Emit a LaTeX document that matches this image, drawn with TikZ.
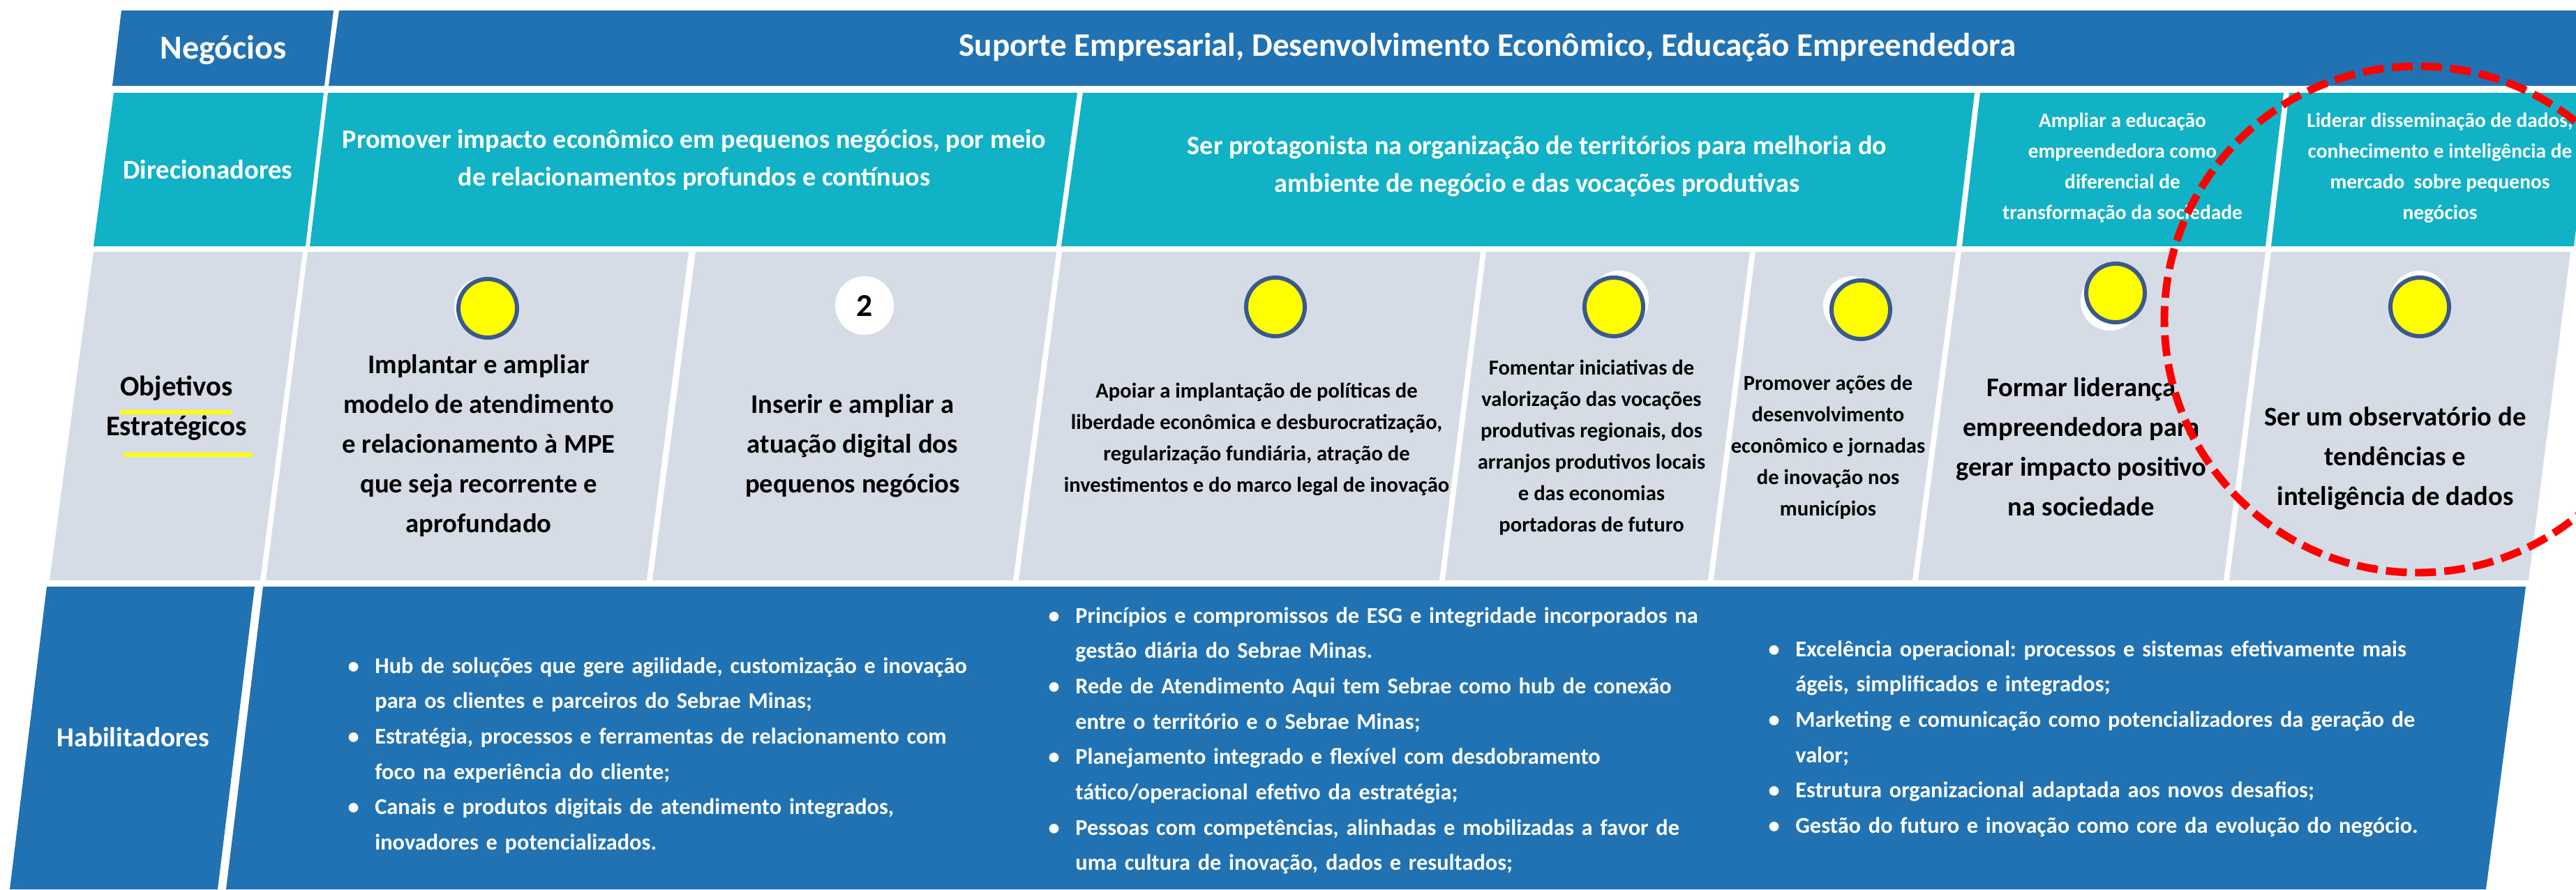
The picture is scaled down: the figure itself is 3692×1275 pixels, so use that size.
\documentclass[tikz,border=0pt]{standalone}
\usepackage{fontspec}
\setmainfont{Carlito}
\usepackage{tikz}
\definecolor{negblue}{RGB}{32,114,178}
\definecolor{dirteal}{RGB}{18,178,198}
\definecolor{objgrey}{RGB}{214,220,229}
\definecolor{ringblue}{RGB}{59,89,140}
\definecolor{dotyellow}{RGB}{255,255,0}
\frenchspacing
\newcommand{\hitem}[1]{\par\noindent\hangindent=11pt\hangafter=1\makebox[11pt][l]{\textbullet}#1\par}

\begin{document}
\begin{tikzpicture}[x=0.01cm,y=-0.01cm]
		\tikzset{negcell/.style={fill=negblue}}
		\tikzset{dircell/.style={fill=dirteal}}
		\tikzset{objcell/.style={fill=objgrey}}
		\tikzset{dot/.style={circle, draw=ringblue, line width=1.7pt, fill=dotyellow, minimum size=0.84cm, inner sep=0pt}}
		\tikzset{halo/.style={circle, fill=white, minimum size=0.84cm, inner sep=0pt}}
		\tikzset{headtxt/.style={text=white, align=center, font=\bfseries\fontsize{13.4}{16}\selectfont}}
		\tikzset{dirtxt/.style={text=white, align=center, font=\bfseries\fontsize{10.85}{15.4}\selectfont}}
		\tikzset{dirsmall/.style={text=white, align=center, font=\bfseries\fontsize{8.35}{12.5}\selectfont}}
		\tikzset{objtxt/.style={text=black, align=center, font=\bfseries\fontsize{11}{16.2}\selectfont}}
		\tikzset{objsmall/.style={text=black, align=center, font=\bfseries\fontsize{8.7}{12.8}\selectfont}}
		\tikzset{habtxt/.style={text=white, align=left, text width=340pt, inner sep=0pt, anchor=north west, font=\bfseries\fontsize{9.2}{14.4}\selectfont}}
		\useasboundingbox (0,0) rectangle (3692,1275);
		\clip (0,0) rectangle (3692,1275);
		%rows
		\fill[negcell] (174,15) -- (478,15) -- (465,123) -- (161,123) -- cycle;
		\fill[negcell] (486,15) -- (3750,15) -- (3750,123) -- (471,123) -- cycle;
		\fill[dircell] (163,133) -- (464,133) -- (438,353) -- (134,353) -- cycle;
		\fill[dircell] (470,133) -- (1544,133) -- (1514,353) -- (444,353) -- cycle;
		\fill[dircell] (1552,133) -- (2830,133) -- (2804,353) -- (1521,353) -- cycle;
		\fill[dircell] (2838,133) -- (3273,133) -- (3247,353) -- (2812,353) -- cycle;
		\fill[dircell] (3281,133) -- (3716,133) -- (3689,353) -- (3255,353) -- cycle;
		\fill[objcell] (134,361) -- (434,361) -- (373,832) -- (71,832) -- cycle;
		\fill[objcell] (441,361) -- (987,361) -- (927,832) -- (381,832) -- cycle;
		\fill[objcell] (997,361) -- (1514,361) -- (1452,832) -- (935,832) -- cycle;
		\fill[objcell] (1522,361) -- (2122,361) -- (2063,832) -- (1460,832) -- cycle;
		\fill[objcell] (2130,361) -- (2508,361) -- (2448,832) -- (2071,832) -- cycle;
		\fill[objcell] (2516,361) -- (2803,361) -- (2741,832) -- (2456,832) -- cycle;
		\fill[objcell] (2811,361) -- (3247,361) -- (3187,832) -- (2749,832) -- cycle;
		\fill[objcell] (3255,361) -- (3684,361) -- (3624,832) -- (3195,832) -- cycle;
		\fill[negcell] (67,841) -- (365,841) -- (312,1275) -- (14,1275) -- cycle;
		\fill[negcell] (377,841) -- (3620,841) -- (3563,1275) -- (324,1275) -- cycle;
		%row labels
		\node[headtxt, font=\bfseries\fontsize{13.7}{16}\selectfont] (neg) at (320,72) {Negócios};
		\node[dirtxt, font=\bfseries\fontsize{11}{12}\selectfont] (dir) at (298,243) {Direcionadores};
		\node[objtxt, font=\bfseries\fontsize{11.6}{16}\selectfont] (obj) at (253,585) {Objetivos\\Estratégicos};
		\fill[dotyellow] (172,588) rectangle (332,594);
		\fill[dotyellow] (177,649) rectangle (362,655);
		\node[dirtxt, font=\bfseries\fontsize{11.2}{12}\selectfont] (hab) at (191,1057) {Habilitadores};
		%business
		\node[headtxt] (sup) at (2132,68) {Suporte Empresarial, Desenvolvimento Econômico, Educação Empreendedora};
		%drivers
		\node[dirtxt] (dir1) at (995,229) {Promover impacto econômico em pequenos negócios, por meio\\de relacionamentos profundos e contínuos};
		\node[dirtxt] (dir2) at (2203,238) {Ser protagonista na organização de territórios para melhoria do\\ambiente de negócio e das vocações produtivas};
		\node[dirsmall] (dir3) at (3042,241) {Ampliar a educação\\empreendedora como\\diferencial de\\transformação da sociedade};
		\node[dirsmall] (dir4) at (3497,241) {Liderar disseminação de dados,\\conhecimento e inteligência de\\mercado\ \ sobre pequenos\\negócios};
		%circles
		\node[halo] (h1) at (693,440) {};
		\node[halo] (h4) at (2321,430) {};
		\node[halo] (h5) at (2655,438) {};
		\node[halo] (h6) at (3024,432) {};
		\node[halo] (h7) at (3468,430) {};
		\node[dot] (c1) at (699,442) {};
		\node[halo, font=\bfseries\fontsize{13}{14}\selectfont] (c2) at (1239,438) {2};
		\node[dot] (c3) at (1828,440) {};
		\node[dot] (c4) at (2313,440) {};
		\node[dot] (c5) at (2667,444) {};
		\node[dot] (c6) at (3032,420) {};
		\node[dot] (c7) at (3468,440) {};
		%objectives
		\node[objtxt] (ob1) at (686,639) {Implantar e ampliar\\modelo de atendimento\\e relacionamento à MPE\\que seja recorrente e\\aprofundado};
		\node[objtxt] (ob2) at (1222,639) {Inserir e ampliar a\\atuação digital dos\\pequenos negócios};
		\node[objsmall] (ob3) at (1801,630) {Apoiar a implantação de políticas de\\liberdade econômica e desburocratização,\\regularização fundiária, atração de\\investimentos e do marco legal de inovação};
		\node[objsmall] (ob4) at (2281,642) {Fomentar iniciativas de\\valorização das vocações\\produtivas regionais, dos\\arranjos produtivos locais\\e das economias\\portadoras de futuro};
		\node[objsmall] (ob5) at (2620,641) {Promover ações de\\desenvolvimento\\econômico e jornadas\\de inovação nos\\municípios};
		\node[objtxt] (ob6) at (2983,641) {Formar liderança\\empreendedora para\\gerar impacto positivo\\na sociedade};
		\node[objtxt] (ob7) at (3433,657) {Ser um observatório de\\tendências e\\inteligência de dados};
		%enablers
		\node[habtxt] (hab1) at (498,914) {\hitem{Hub de soluções que gere agilidade, customização e inovação\newline para os clientes e parceiros do Sebrae Minas;}\hitem{Estratégia, processos e ferramentas de relacionamento com\newline foco na experiência do cliente;}\hitem{Canais e produtos digitais de atendimento integrados,\newline inovadores e potencializados.}};
		\node[habtxt] (hab2) at (1502,842) {\hitem{Princípios e compromissos de ESG e integridade incorporados na\newline gestão diária do Sebrae Minas.}\hitem{Rede de Atendimento Aqui tem Sebrae como hub de conexão\newline entre o território e o Sebrae Minas;}\hitem{Planejamento integrado e flexível com desdobramento\newline tático/operacional efetivo da estratégia;}\hitem{Pessoas com competências, alinhadas e mobilizadas a favor de\newline uma cultura de inovação, dados e resultados;}};
		\node[habtxt] (hab3) at (2534,890) {\hitem{Excelência operacional: processos e sistemas efetivamente mais\newline ágeis, simplificados e integrados;}\hitem{Marketing e comunicação como potencializadores da geração de\newline valor;}\hitem{Estrutura organizacional adaptada aos novos desafios;}\hitem{Gestão do futuro e inovação como core da evolução do negócio.}};
		%highlight
		\draw[red, line width=3.1pt, dash pattern=on 8.5pt off 3.4pt] (3465,458) circle[radius=363];
		\end{tikzpicture}
\end{document}
